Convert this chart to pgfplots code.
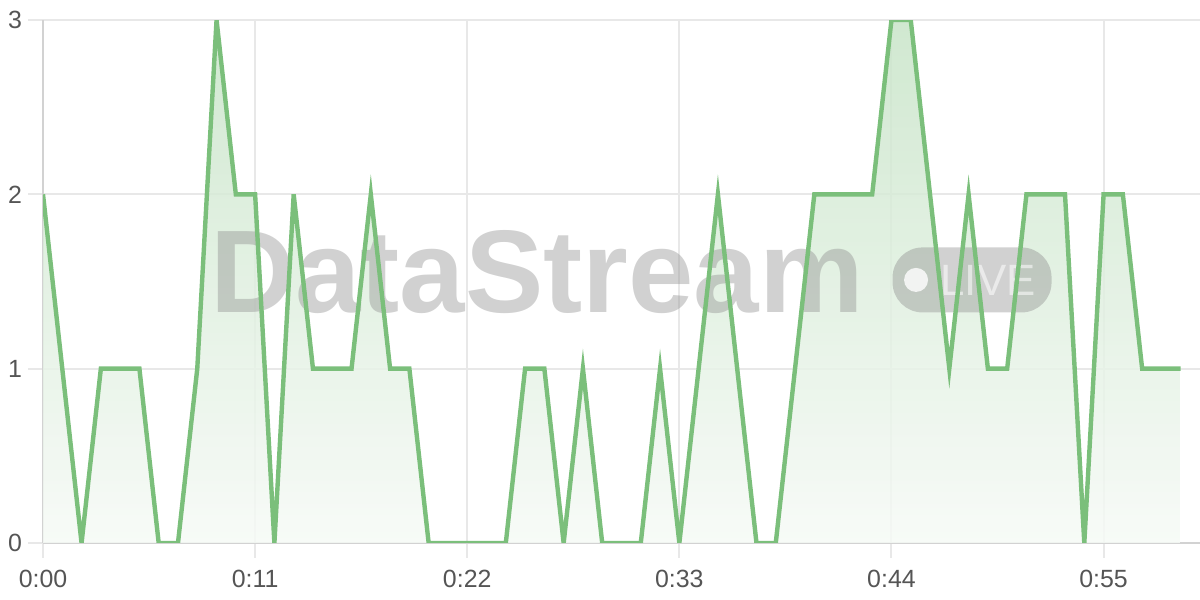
\documentclass[border=0pt]{standalone}
\usepackage{fontspec}
\setmainfont{Liberation Sans}
\usepackage{pgfplots}
\pgfplotsset{compat=1.18}
\definecolor{lineg}{RGB}{123,191,123}
\definecolor{filltop}{RGB}{200,228,200}
\definecolor{fillbot}{RGB}{246,250,246}
\definecolor{gridc}{RGB}{232,232,232}
\definecolor{axc}{RGB}{210,210,210}
\definecolor{tickc}{RGB}{85,85,85}
\definecolor{wm}{RGB}{140,140,140}
\pgfplotstableread{
x y
0 2
1 1
2 0
3 1
4 1
5 1
6 0
7 0
8 1
9 3
10 2
11 2
12 0
13 2
14 1
15 1
16 1
17 2
18 1
19 1
20 0
21 0
22 0
23 0
24 0
25 1
26 1
27 0
28 1
29 0
30 0
31 0
32 1
33 0
34 1
35 2
36 1
37 0
38 0
39 1
40 2
41 2
42 2
43 2
44 3
45 3
46 2
47 1
48 2
49 1
50 1
51 2
52 2
53 2
54 0
55 2
56 2
57 1
58 1
59 1
}\datatable
\begin{document}
\begin{tikzpicture}
\useasboundingbox (-21.5bp,-28.5bp) rectangle (578.5bp,271.5bp);
\begin{axis}[
  scale only axis, width=578.5bp, height=261.5bp,
  xmin=0, xmax=60, ymin=0, ymax=3,
  axis x line=bottom, axis y line=left,
  axis line style={draw=axc, line width=1bp, -},
  xtick={0,11,22,33,44,55},
  xticklabels={0:00,0:11,0:22,0:33,0:44,0:55},
  ytick={0,1,2,3},
  grid=major, major grid style={draw=gridc, line width=1bp},
  tick align=outside, major tick length=7.5bp,
  tick style={draw=gridc, line width=1bp},
  ticklabel style={font=\fontsize{12.5}{14}\selectfont, text=tickc},
  xticklabel style={yshift=-2.5bp},
  yticklabel style={xshift=0.5bp},
  /pgf/number format/assume math mode=true,
]
\addplot[draw=none, top color=filltop, bottom color=fillbot, fill opacity=0.85] table[x=x,y=y]{\datatable} \closedcycle;
\node[font=\fontsize{59}{60}\selectfont\bfseries, text=wm, text opacity=0.4, inner sep=0pt] at (rel axis cs:0.427,0.518) {DataStream};
\node[fill=wm, fill opacity=0.4, rounded corners=15bp, minimum width=79.5bp, minimum height=32.5bp, inner sep=0pt] (badge) at (rel axis cs:0.803,0.503) {};
\fill[white, opacity=0.8] ([xshift=-28bp]badge.center) circle (6bp);
\node[font=\fontsize{22}{24}\selectfont, text=white, text opacity=0.55, inner sep=0pt] at ([xshift=8bp]badge.center) {LIVE};
\addplot[draw=lineg, line width=2.2bp, mark=none] table[x=x,y=y]{\datatable};
\end{axis}
\end{tikzpicture}
\end{document}
